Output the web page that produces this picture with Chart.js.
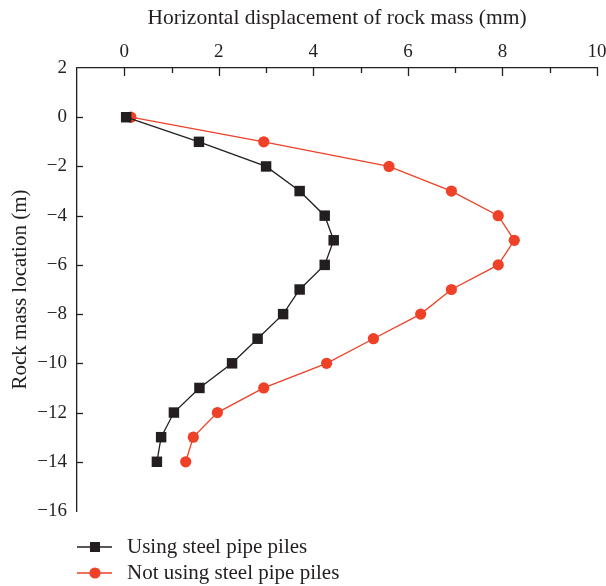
<!DOCTYPE html>
<html>
<head>
<meta charset="utf-8">
<script src="https://cdn.jsdelivr.net/npm/chart.js@4"></script>
<style>
  html, body { margin: 0; padding: 0; background: #fff; }
  #wrap { width: 606px; height: 586px; }
</style>
</head>
<body>
<div id="wrap"><canvas id="chart" width="606" height="586"></canvas></div>
<script>
// rock mass location (m)
const depths = [0, -1, -2, -3, -4, -5, -6, -7, -8, -9, -10, -11, -12, -13, -14];
// horizontal displacement (mm)
const withPiles = [0.04, 1.58, 3.0, 3.71, 4.24, 4.43, 4.24, 3.71, 3.36, 2.82, 2.28, 1.59, 1.05, 0.78, 0.69];
const withoutPiles = [0.14, 2.95, 5.6, 6.92, 7.91, 8.25, 7.91, 6.92, 6.27, 5.27, 4.28, 2.95, 1.97, 1.46, 1.3];
const seriesNames = ['Using steel pipe piles', 'Not using steel pipe piles'];
const xTicks = [0, 2, 4, 6, 8, 10];
const yTicks = [2, 0, -2, -4, -6, -8, -10, -12, -14, -16];
const xTitle = 'Horizontal displacement of rock mass (mm)';
const yTitle = 'Rock mass location (m)';

const FONT = '"Liberation Serif", "DejaVu Serif", serif';
const BLACK = '#231f20';
const RED = '#ee4127';

function toPoints(xs) {
    return xs.map((x, i) => ({ x: x, y: depths[i] }));
}

function fmt(v) {
    return v < 0 ? '\u2212' + Math.abs(v) : String(v);
}

// inward ticks + legend drawn on top of the chart
const extras = {
    id: 'extras',
    afterDraw(chart) {
        const c = chart.ctx;
        const xs = chart.scales.x, ys = chart.scales.y;
        const top = chart.chartArea.top, left = chart.chartArea.left;
        c.save();
        c.strokeStyle = BLACK;
        c.lineWidth = 1.3;
        for (let v = 0; v <= 10; v++) {
            const px = Math.round(xs.getPixelForValue(v)) + 0.5;
            const len = v % 2 === 0 ? 8 : 5;
            c.beginPath();
            c.moveTo(px, top);
            c.lineTo(px, top + len);
            c.stroke();
        }
        for (let v = -14; v <= 0; v += 2) {
            const py = Math.round(ys.getPixelForValue(v)) + 0.5;
            c.beginPath();
            c.moveTo(left, py);
            c.lineTo(left + 6, py);
            c.stroke();
        }

        // legend
        const ds = chart.data.datasets;
        const rowY = [547, 573];
        ds.forEach((d, i) => {
            const y = rowY[i];
            c.strokeStyle = d.borderColor;
            c.lineWidth = 1.3;
            c.beginPath();
            c.moveTo(77, y);
            c.lineTo(112, y);
            c.stroke();
            c.fillStyle = d.pointBackgroundColor;
            if (d.pointStyle === 'rect') {
                c.fillRect(90, y - 5, 10, 10);
            } else {
                c.beginPath();
                c.arc(95, y, 5.6, 0, Math.PI * 2);
                c.fill();
            }
            c.fillStyle = BLACK;
            c.font = '21px ' + FONT;
            c.textBaseline = 'middle';
            c.textAlign = 'left';
            c.fillText(d.label, 127, y);
        });
        c.restore();
    }
};

const ctx = document.getElementById('chart').getContext('2d');

new Chart(ctx, {
    type: 'line',
    data: {
        datasets: [{
            label: seriesNames[0],
            data: toPoints(withPiles),
            borderColor: BLACK,
            backgroundColor: BLACK,
            pointBackgroundColor: BLACK,
            pointBorderWidth: 0,
            pointStyle: 'rect',
            pointRadius: 7.4,
            borderWidth: 1.3,
            tension: 0
        }, {
            label: seriesNames[1],
            data: toPoints(withoutPiles),
            borderColor: RED,
            backgroundColor: RED,
            pointBackgroundColor: RED,
            pointBorderWidth: 0,
            pointStyle: 'circle',
            pointRadius: 5.6,
            borderWidth: 1.3,
            tension: 0
        }]
    },
    options: {
        responsive: false,
        animation: false,
        layout: { padding: { left: 0, right: 9, top: 0, bottom: 75 } },
        plugins: {
            legend: { display: false },
            tooltip: { enabled: false }
        },
        scales: {
            x: {
                type: 'linear',
                position: 'top',
                min: -1,
                max: 10,
                afterBuildTicks(scale) {
                    scale.ticks = xTicks.map(v => ({ value: v }));
                },
                afterFit(scale) {
                    scale.height = 68;
                    scale.paddingLeft = 0;
                    scale.paddingRight = 0;
                },
                grid: { display: false, drawTicks: false },
                border: { display: true, color: BLACK, width: 1.3 },
                ticks: {
                    color: BLACK,
                    padding: 5,
                    maxRotation: 0,
                    font: { family: FONT, size: 19 },
                    callback: v => fmt(v)
                },
                title: {
                    display: true,
                    text: xTitle,
                    color: BLACK,
                    padding: { top: 5, bottom: 0 },
                    font: { family: FONT, size: 21.5 }
                }
            },
            y: {
                type: 'linear',
                min: -16,
                max: 2,
                afterBuildTicks(scale) {
                    scale.ticks = yTicks.map(v => ({ value: v }));
                },
                afterFit(scale) {
                    scale.width = 77;
                    scale.paddingTop = 0;
                    scale.paddingBottom = 0;
                },
                grid: { display: false, drawTicks: false },
                border: { display: true, color: BLACK, width: 1.3 },
                ticks: {
                    color: BLACK,
                    padding: 10,
                    font: { family: FONT, size: 19 },
                    callback: v => fmt(v)
                },
                title: {
                    display: true,
                    text: yTitle,
                    color: BLACK,
                    padding: { top: 8, bottom: 0 },
                    font: { family: FONT, size: 21 }
                }
            }
        }
    },
    plugins: [extras]
});
</script>
</body>
</html>
